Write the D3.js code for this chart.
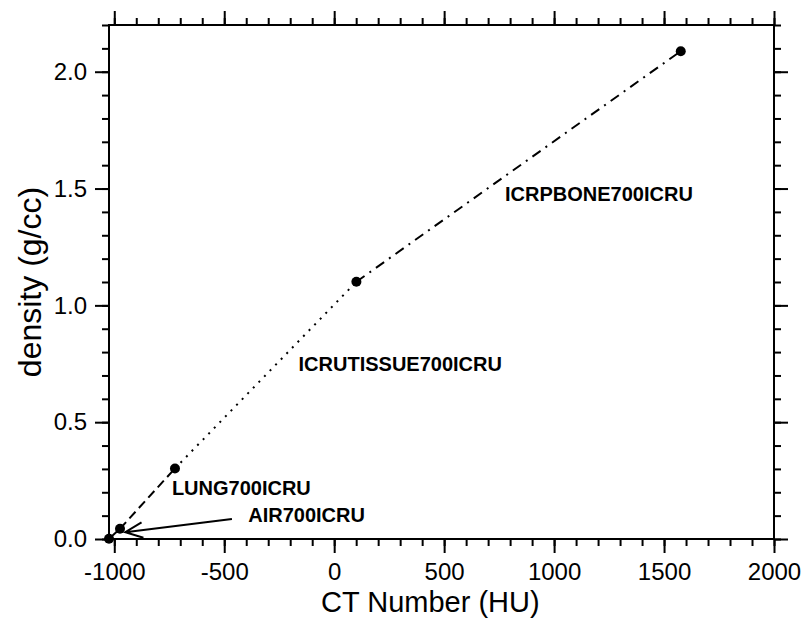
<!DOCTYPE html>
<html>
<head>
<meta charset="utf-8">
<script src="https://cdn.jsdelivr.net/npm/d3@7"></script>
<style>
  body { margin: 0; background: #fff; overflow: hidden; }
  svg { font-family: "Liberation Sans", Arial, Helvetica, sans-serif; display: block; }
  .tick text { font-size: 24px; fill: #000; }
  .axis-title { font-size: 29px; fill: #000; }
  .y-title { font-size: 32px; fill: #000; }
  .material-label { font-size: 20px; font-weight: bold; fill: #000; }
</style>
</head>
<body>
<div id="chart"></div>
<script>
// CT ramp points (CT number, density)
const ctNumbers = [-1024, -974, -724, 101, 1576];
const densities = [0.001, 0.044, 0.302, 1.101, 2.088];

// Materials: one segment between consecutive points
const materials = ["AIR700ICRU", "LUNG700ICRU", "ICRUTISSUE700ICRU", "ICRPBONE700ICRU"];
const lineStyles = ["none", "9,5", "2,6", "10,6,2,6"];

// Label anchors in data units
const labelCT = [-391, -738, -162, 777];
const labelDensity = [0.074, 0.188, 0.719, 1.446];

// Arrow for the AIR label (tail, tip) in data units
const arrowCT = [-465, -950];
const arrowDensity = [0.086, 0.029];

// Tick values
const xMajor = [-1000, -500, 0, 500, 1000, 1500, 2000];
const xMinor = d3.range(-1000, 2001, 100);
const yMajor = [0.0, 0.5, 1.0, 1.5, 2.0];
const yMinor = d3.range(0, 23).map(d => d / 10);

const width = 804;
const height = 618;
const margin = { top: 25, right: 30, bottom: 79, left: 109 };
const innerWidth = width - margin.left - margin.right;
const innerHeight = height - margin.top - margin.bottom;

const svg = d3.select("#chart")
    .append("svg")
    .attr("width", width)
    .attr("height", height);

const inner = svg.append("g")
    .attr("transform", `translate(${margin.left},${margin.top})`);

const xScale = d3.scaleLinear().domain([-1024, 2000]).range([0, innerWidth]);
const yScale = d3.scaleLinear().domain([0, 2.2]).range([innerHeight, 0]);

// Plain hyphen for negatives, like the original
const xFormat = d => String(d);
const yFormat = d => d.toFixed(1);

// Axes: major ticks with labels, minor ticks without, on all four sides
const styleAxis = g => {
    g.select(".domain").remove();
    g.selectAll(".tick line").attr("stroke", "#000").attr("stroke-width", 2);
    g.selectAll(".tick text").attr("font-family", null).attr("font-size", null);
};
const tickOnly = g => {
    styleAxis(g);
    g.selectAll(".tick text").remove();
};

inner.append("g")
    .attr("transform", `translate(0,${innerHeight})`)
    .call(d3.axisBottom(xScale).tickValues(xMinor).tickSize(7))
    .call(tickOnly);
inner.append("g")
    .attr("transform", `translate(0,${innerHeight})`)
    .call(d3.axisBottom(xScale).tickValues(xMajor).tickSize(14).tickPadding(10).tickFormat(xFormat))
    .call(styleAxis);

inner.append("g")
    .call(d3.axisTop(xScale).tickValues(xMinor).tickSize(7))
    .call(tickOnly);
inner.append("g")
    .call(d3.axisTop(xScale).tickValues(xMajor).tickSize(14))
    .call(tickOnly);

inner.append("g")
    .call(d3.axisLeft(yScale).tickValues(yMinor).tickSize(7))
    .call(tickOnly);
inner.append("g")
    .call(d3.axisLeft(yScale).tickValues(yMajor).tickSize(14).tickPadding(8).tickFormat(yFormat))
    .call(styleAxis);

inner.append("g")
    .attr("transform", `translate(${innerWidth},0)`)
    .call(d3.axisRight(yScale).tickValues(yMinor).tickSize(7))
    .call(tickOnly);
inner.append("g")
    .attr("transform", `translate(${innerWidth},0)`)
    .call(d3.axisRight(yScale).tickValues(yMajor).tickSize(14))
    .call(tickOnly);

// Frame
inner.append("rect")
    .attr("width", innerWidth)
    .attr("height", innerHeight)
    .attr("fill", "none")
    .attr("stroke", "#000")
    .attr("stroke-width", 2);

// Axis titles
svg.append("text")
    .attr("class", "axis-title")
    .attr("x", 321)
    .attr("y", 612)
    .text("CT Number (HU)");

svg.append("text")
    .attr("class", "y-title")
    .attr("text-anchor", "middle")
    .attr("transform", `translate(41,${margin.top + innerHeight / 2}) rotate(-90)`)
    .text("density (g/cc)");

// Segments between consecutive ramp points
materials.forEach((m, i) => {
    inner.append("line")
        .attr("x1", xScale(ctNumbers[i]))
        .attr("y1", yScale(densities[i]))
        .attr("x2", xScale(ctNumbers[i + 1]))
        .attr("y2", yScale(densities[i + 1]))
        .attr("stroke", "#000")
        .attr("stroke-width", 2)
        .attr("stroke-dasharray", lineStyles[i]);
});

// Points
inner.selectAll("circle")
    .data(ctNumbers)
    .join("circle")
    .attr("cx", d => xScale(d))
    .attr("cy", (d, i) => yScale(densities[i]))
    .attr("r", 5)
    .attr("fill", "#000");

// Material labels
inner.selectAll(".material-label")
    .data(materials)
    .join("text")
    .attr("class", "material-label")
    .attr("x", (d, i) => xScale(labelCT[i]))
    .attr("y", (d, i) => yScale(labelDensity[i]))
    .text(d => d);

// Arrow pointing at the AIR point
const tx = xScale(arrowCT[0]), ty = yScale(arrowDensity[0]);
const hx = xScale(arrowCT[1]), hy = yScale(arrowDensity[1]);
const ang = Math.atan2(ty - hy, tx - hx);
const headLen = 19, headAng = 0.42;
const arrow = d3.path();
arrow.moveTo(tx, ty);
arrow.lineTo(hx, hy);
arrow.moveTo(hx + headLen * Math.cos(ang - headAng), hy + headLen * Math.sin(ang - headAng));
arrow.lineTo(hx, hy);
arrow.lineTo(hx + headLen * Math.cos(ang + headAng), hy + headLen * Math.sin(ang + headAng));
inner.append("path")
    .attr("d", arrow.toString())
    .attr("fill", "none")
    .attr("stroke", "#000")
    .attr("stroke-width", 2);
</script>
</body>
</html>
